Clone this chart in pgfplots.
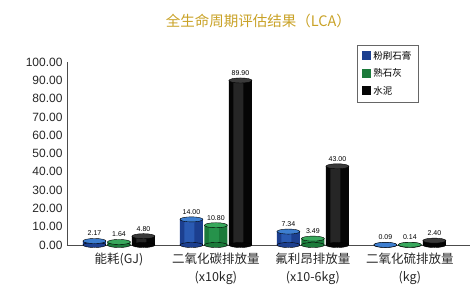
\documentclass[border=0pt]{standalone}
\usepackage{pgfplots}
\pgfplotsset{compat=1.18}
\usepackage{fontspec}
\setmainfont{Liberation Sans}
\newfontfamily\cjk{Noto Sans CJK SC}
\definecolor{bbase}{HTML}{1C3F8F}
\definecolor{bhl}{HTML}{2A5AB2}
\definecolor{bcap}{HTML}{3D7ED0}
\definecolor{gbase}{HTML}{1B7A3A}
\definecolor{ghl}{HTML}{26924B}
\definecolor{gcap}{HTML}{38A85C}
\definecolor{kbase}{HTML}{050505}
\definecolor{khl}{HTML}{262626}
\definecolor{kcap}{HTML}{3A3A3A}
\definecolor{ctitle}{HTML}{C9A227}
\pgfplotsset{
  base/.style 2 args={ybar, bar width=23pt, bar shift=#1, draw=none, fill=#2},
  hl/.style 2 args={ybar, bar width=10pt, bar shift=#1, draw=none, fill=#2, forget plot},
  cap/.style 2 args={only marks, mark=*, mark size=11.5pt,
    mark options={xshift=#1, yscale=0.22, fill=#2, draw=none},
    nodes near coords,
    nodes near coords style={yshift=1.5pt, font=\fontsize{7}{8}\selectfont, text=black,
      /pgf/number format/fixed,/pgf/number format/fixed zerofill,/pgf/number format/precision=2},
    forget plot},
  bot/.style 2 args={only marks, mark=*, mark size=11.5pt,
    mark options={xshift=#1, yscale=0.22, fill=#2, draw=none}, forget plot},
}
\begin{document}
\begin{tikzpicture}
\begin{axis}[
  scale only axis,
  width=403pt, height=183pt,
  xmin=-0.536, xmax=3.62,
  ymin=0, ymax=100,
  axis lines=left,
  axis line style={-, draw=black!70, line width=0.6pt},
  ytick={0,10,...,100},
  yticklabel style={/pgf/number format/fixed,/pgf/number format/fixed zerofill,/pgf/number format/precision=2, font=\fontsize{12}{13}\selectfont, text=black!85, xshift=-1pt},
  /pgf/number format/assume math mode=true,
  major tick length=0pt,
  xtick={0,1,2,3},
  xticklabels={{能耗(GJ)},{二氧化碳排放量\\(x10kg)},{氟利昂排放量\\(x10-6kg)},{二氧化硫排放量\\(kg)}},
  xticklabel style={font=\cjk\fontsize{12.5}{18}\selectfont, align=center, anchor=north, yshift=-4pt, text=black!85},
  legend style={at={(0.7196,1.0929)}, anchor=north west, draw=black!60, line width=0.6pt, font=\cjk\fontsize{9.5}{10}\selectfont, row sep=4pt, inner sep=4pt, inner xsep=5pt, cells={anchor=west}},
  legend image code/.code={\fill[#1] (0pt,-4pt) rectangle (9pt,5pt);},
  title={\cjk 全生命周期评估结果（LCA）},
  title style={font=\fontsize{14.5}{16}\selectfont, text=ctitle, at={(0.475,1)}, anchor=south, yshift=25pt},
  clip=false,
]
% bottom rims of the cylinders
\addplot[bot={-24.5pt}{bbase}] coordinates {(0,0) (1,0) (2,0) (3,0)};
\addplot[bot={0pt}{gbase}] coordinates {(0,0) (1,0) (2,0) (3,0)};
\addplot[bot={24.5pt}{kbase}] coordinates {(0,0) (1,0) (2,0) (3,0)};
% 粉刷石膏
\addplot[base={-24.5pt}{bbase}] coordinates {(0,2.17) (1,14.00) (2,7.34) (3,0.09)};
\addplot[hl={-26.5pt}{bhl}] coordinates {(0,2.17) (1,14.00) (2,7.34) (3,0.09)};
\addplot[cap={-24.5pt}{bcap}] coordinates {(0,2.17) (1,14.00) (2,7.34) (3,0.09)};
% 熟石灰
\addplot[base={0pt}{gbase}] coordinates {(0,1.64) (1,10.80) (2,3.49) (3,0.14)};
\addplot[hl={-2pt}{ghl}] coordinates {(0,1.64) (1,10.80) (2,3.49) (3,0.14)};
\addplot[cap={0pt}{gcap}] coordinates {(0,1.64) (1,10.80) (2,3.49) (3,0.14)};
% 水泥
\addplot[base={24.5pt}{kbase}] coordinates {(0,4.80) (1,89.90) (2,43.00) (3,2.40)};
\addplot[hl={22.5pt}{khl}] coordinates {(0,4.80) (1,89.90) (2,43.00) (3,2.40)};
\addplot[cap={24.5pt}{kcap}] coordinates {(0,4.80) (1,89.90) (2,43.00) (3,2.40)};
\legend{粉刷石膏,熟石灰,水泥}
\end{axis}
\pgfresetboundingbox
\path[use as bounding box] ([shift={(-67pt,-51pt)}]current axis.south west) rectangle ([shift={(4pt,62pt)}]current axis.north east);
\end{tikzpicture}
\end{document}
